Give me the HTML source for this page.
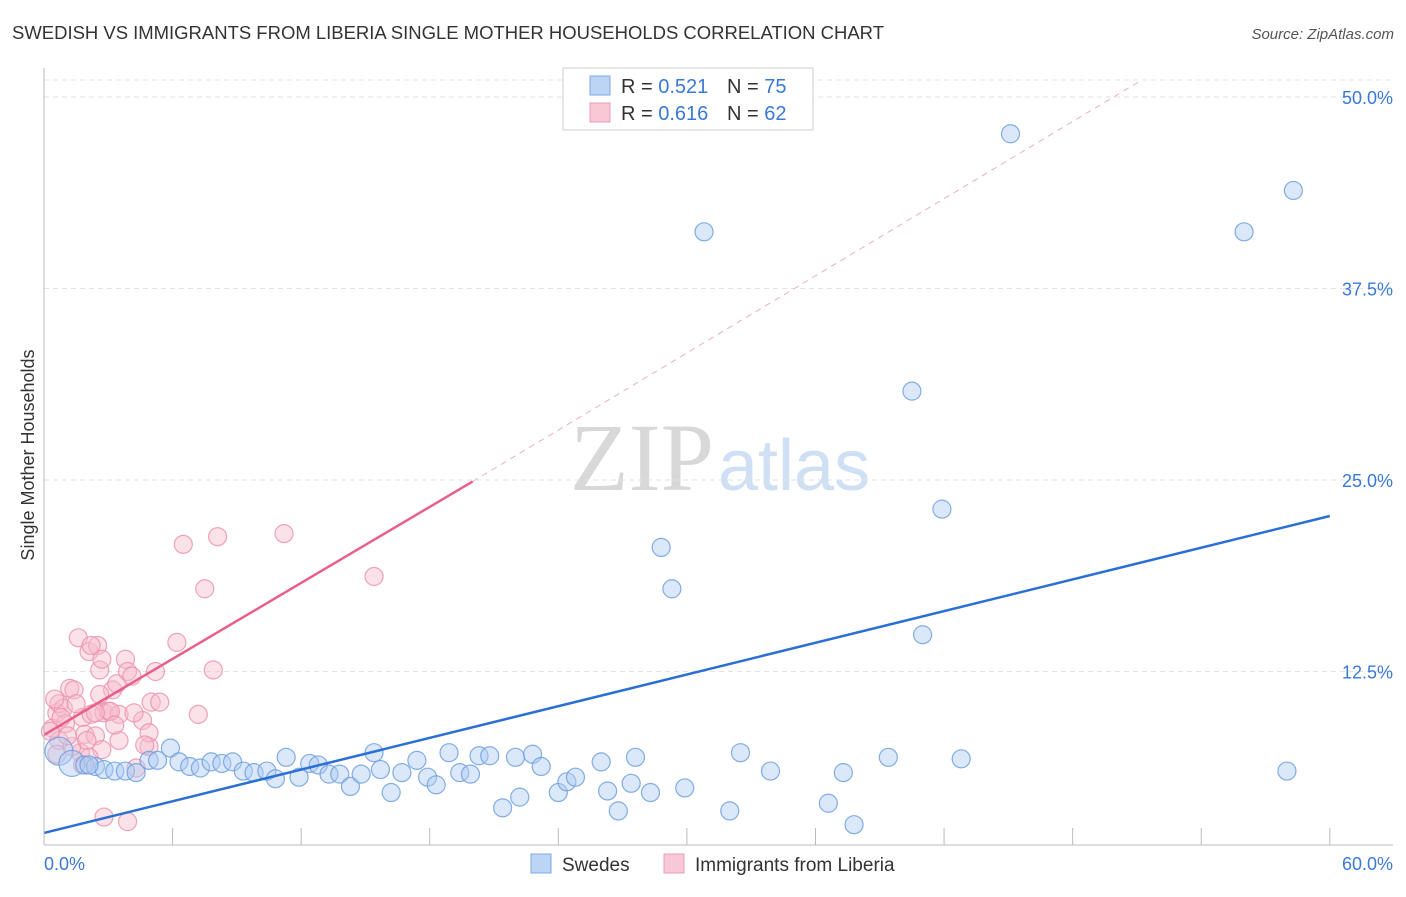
<!DOCTYPE html>
<html><head><meta charset="utf-8"><style>
body{margin:0;background:#fff;font-family:"Liberation Sans",sans-serif;}
</style></head><body>
<svg id="chart" width="1406" height="892" font-family="Liberation Sans, sans-serif">
<text x="12" y="39" font-size="18.5" fill="#333" textLength="872">SWEDISH VS IMMIGRANTS FROM LIBERIA SINGLE MOTHER HOUSEHOLDS CORRELATION CHART</text>
<text x="1394" y="39" font-size="15" fill="#555" font-style="italic" text-anchor="end">Source: ZipAtlas.com</text>
<text transform="translate(34,455) rotate(-90)" font-size="18" fill="#333" text-anchor="middle">Single Mother Households</text>
<text x="714" y="490" font-size="96" fill="#d8d8d8" style="font-family:'Liberation Serif',serif" text-anchor="end">ZIP</text>
<text x="718" y="490" font-size="72" fill="#cfe0f5">atlas</text>
<g id="grid"></g><g id="ticks"></g><g id="pink"></g><g id="blue"></g><g id="lines"></g>
<line x1="44" y1="68" x2="44" y2="845" stroke="#bbb"/>
<line x1="44" y1="845" x2="1393" y2="845" stroke="#bbb"/>
<text x="44" y="870" font-size="18" fill="#3a78d8">0.0%</text>
<text x="1393" y="870" font-size="18" fill="#3a78d8" text-anchor="end">60.0%</text>
<g>
<rect x="563" y="68" width="250" height="62" fill="#fff" stroke="#ccc"/>
<rect x="590" y="76" width="20" height="19" fill="#bcd5f5" stroke="#7ea9e6"/>
<rect x="590" y="103" width="20" height="19" fill="#f9c8d6" stroke="#ec9bb4"/>
<text x="621" y="93" font-size="20" fill="#333">R = <tspan fill="#3a78d8">0.521</tspan></text>
<text x="727" y="93" font-size="20" fill="#333">N = <tspan fill="#3a78d8">75</tspan></text>
<text x="621" y="120" font-size="20" fill="#333">R = <tspan fill="#3a78d8">0.616</tspan></text>
<text x="727" y="120" font-size="20" fill="#333">N = <tspan fill="#3a78d8">62</tspan></text>
</g>
<g>
<rect x="531" y="854" width="20" height="19" fill="#bcd5f5" stroke="#7ea9e6"/>
<text x="562" y="871" font-size="19" fill="#333">Swedes</text>
<rect x="664" y="854" width="20" height="19" fill="#f9c8d6" stroke="#ec9bb4"/>
<text x="695" y="871" font-size="19" fill="#333">Immigrants from Liberia</text>
</g>
</svg>
<script>
const yTicks=[12.5,25,37.5,50];
const xTickVals=[0,6,12,18,24,30,36,42,48,54,60];
const blueX=[45.1,58.3,30.8,56.0,40.5,41.9,28.8,29.3,41.0,58.0,0.7,1.3,1.9,2.4,2.8,3.3,3.8,4.3,4.9,5.3,5.9,6.3,6.8,7.3,7.8,8.3,8.8,9.3,9.8,10.4,10.8,11.3,11.9,12.4,12.8,13.3,13.8,14.3,14.8,15.4,15.7,16.2,16.7,17.4,17.9,18.3,18.9,19.4,19.9,20.3,20.8,21.4,22.2,22.0,22.8,23.2,24.0,24.4,24.8,26.0,26.3,26.8,27.4,27.6,28.3,29.9,32.0,32.5,33.9,36.6,37.3,37.8,39.4,42.8,2.1];
const blueY=[47.6,43.9,41.2,41.2,30.8,23.1,20.6,17.9,14.9,6.0,7.3,6.5,6.4,6.3,6.1,6.0,6.0,5.9,6.7,6.7,7.5,6.6,6.3,6.2,6.6,6.5,6.6,6.0,5.9,6.0,5.5,6.9,5.6,6.5,6.4,5.8,5.8,5.0,5.8,7.2,6.1,4.6,5.9,6.7,5.6,5.1,7.2,5.9,5.8,7.0,7.0,3.6,4.3,6.9,7.1,6.3,4.6,5.3,5.6,6.6,4.7,3.4,5.2,6.9,4.6,4.9,3.4,7.2,6.0,3.9,5.9,2.5,6.9,6.8,6.4];
const blueR=[9,9,9,9,9,9,9,9,9,9,14,13,9,9,9,9,9,9,9,9,9,9,9,9,9,9,9,9,9,9,9,9,9,9,9,9,9,9,9,9,9,9,9,9,9,9,9,9,9,9,9,9,9,9,9,9,9,9,9,9,9,9,9,9,9,9,9,9,9,9,9,9,9,9,9];
const pinkX=[0.4,0.6,0.7,0.9,1.2,1.4,1.6,1.8,1.9,2.1,2.2,2.4,2.5,2.6,2.7,2.8,3.0,3.2,3.4,3.5,3.5,3.8,3.9,4.1,4.3,4.6,4.9,4.9,5.0,5.2,5.4,6.2,6.5,7.5,7.9,8.1,7.2,11.2,15.4,2.8,3.9,1.7,0.7,0.3,1.0,1.3,2.0,3.1,2.7,0.8,0.5,1.1,3.3,4.2,4.7,2.1,1.5,2.6,2.2,0.6,2.4,1.8];
const pinkY=[8.8,9.8,10.4,10.1,11.4,11.3,14.7,9.5,8.4,13.8,9.7,8.3,14.2,12.6,13.3,9.8,9.9,11.3,11.7,8.0,9.7,13.3,12.5,12.2,6.2,9.3,7.6,8.5,10.5,12.5,10.5,14.4,20.8,17.9,12.6,21.3,9.7,21.5,18.7,3.0,2.7,7.2,8.0,8.6,9.1,7.6,8.0,9.9,7.4,9.5,10.7,8.3,9.0,9.8,7.7,6.9,10.4,11.0,14.2,7.1,9.8,6.4];
const X=v=>44+v*21.43, Y=v=>863-v*15.32;
const NS='http://www.w3.org/2000/svg';
function mk(t,a,p){const e=document.createElementNS(NS,t);for(const k in a)e.setAttribute(k,a[k]);p.appendChild(e);return e;}
const grid=document.getElementById('grid'),ticks=document.getElementById('ticks');
yTicks.forEach(v=>{
 const l=mk('line',{x1:44,x2:1393,y1:Y(v),y2:Y(v),stroke:'#e2e2e2','stroke-dasharray':'5,4'},grid);
 
 
 const t=mk('text',{x:1393,y:Y(v)+7,'font-size':18,fill:'#3a78d8','text-anchor':'end'},ticks);
 t.textContent=v.toFixed(1)+'%';
 
 
});
mk('line',{x1:44,x2:1393,y1:80,y2:80,stroke:'#e6e6e6','stroke-dasharray':'5,4'},grid);
xTickVals.forEach(v=>{
 const l=mk('line',{x1:X(v),x2:X(v),y1:828,y2:845,stroke:'#bbb'},ticks);
 
 
});
function pts(xs,ys,g,fill,stroke,name,rs){xs.forEach((x,i)=>{
 const c=mk('circle',{cx:X(x),cy:Y(ys[i]),r:rs?rs[i]:9,fill:fill,'fill-opacity':0.45,stroke:stroke,'stroke-width':1.2,'stroke-opacity':0.85},g);
 
 
});}
pts(pinkX,pinkY,document.getElementById('pink'),'#f7bccd','#eb93b0','liberia-point');
pts(blueX,blueY,document.getElementById('blue'),'#b0cdf2','#6f9fe0','swedes-point',blueR);
const lg=document.getElementById('lines');
const bl=mk('line',{x1:X(0),y1:Y(1.96),x2:X(60),y2:Y(22.65),stroke:'#2a6fd6','stroke-width':2.5},lg);


const pd=mk('line',{x1:X(20),y1:Y(24.9),x2:X(51.1),y2:Y(51),stroke:'#eab0c2','stroke-width':1,'stroke-dasharray':'6,5'},lg);


const pl=mk('line',{x1:X(0),y1:Y(8.36),x2:X(20),y2:Y(24.9),stroke:'#e8608a','stroke-width':2.5},lg);


</script>
</body></html>
